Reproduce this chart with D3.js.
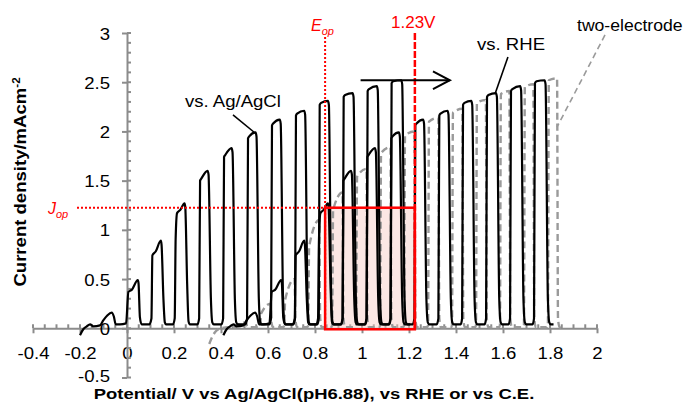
<!DOCTYPE html>
<html>
<head>
<meta charset="utf-8">
<script src="https://cdn.jsdelivr.net/npm/d3@7"></script>
<style>
  body { margin: 0; background: #fff; }
  text { font-family: "Liberation Sans", Arial, sans-serif; }
</style>
</head>
<body>
<div id="chart"></div>
<script>
// ---- data (potential V, current density mA/cm2) ----
const xTicks = [-0.4, -0.2, 0, 0.2, 0.4, 0.6, 0.8, 1, 1.2, 1.4, 1.6, 1.8, 2];
const yTicks = [-0.5, 0, 0.5, 1, 1.5, 2, 2.5, 3];

// chopped LSV, three-electrode, vs Ag/AgCl
const agclPts = [
  [-0.200,-0.07],[-0.186,-0.01],[-0.171,0.02],[-0.157,0.04],[-0.143,0.02],[-0.115,0.03],[-0.101,0.08],
  [-0.084,0.13],[-0.065,0.16],[-0.056,0.12],[-0.048,0.04],[-0.030,0.04],[-0.004,0.05],
  [0.006,0.37],[0.020,0.39],[0.046,0.49],[0.049,0.46],[0.055,0.11],[0.062,0.04],[0.095,0.04],
  [0.104,0.10],[0.108,0.74],[0.122,0.78],[0.144,0.89],[0.147,0.85],[0.155,0.30],[0.161,0.06],[0.166,0.04],[0.196,0.04],
  [0.203,0.10],[0.207,0.91],[0.213,1.17],[0.226,1.20],[0.245,1.27],[0.248,1.23],[0.256,0.45],[0.262,0.07],[0.268,0.04],[0.300,0.04],
  [0.307,0.10],[0.311,1.50],[0.316,1.52],[0.343,1.60],[0.347,1.56],[0.357,0.30],[0.363,0.06],[0.369,0.04],[0.402,0.04],
  [0.409,0.10],[0.413,1.74],[0.418,1.76],[0.445,1.83],[0.449,1.79],[0.459,0.30],[0.465,0.06],[0.471,0.04],[0.504,0.04],
  [0.511,0.10],[0.515,1.93],[0.520,1.95],[0.547,1.99],[0.551,1.95],[0.561,0.30],[0.567,0.06],[0.573,0.04],[0.606,0.04],
  [0.613,0.10],[0.617,2.06],[0.622,2.08],[0.650,2.12],[0.654,2.08],[0.664,0.30],[0.670,0.06],[0.676,0.04],[0.708,0.04],
  [0.715,0.10],[0.719,2.16],[0.724,2.18],[0.754,2.21],[0.758,2.17],[0.768,0.30],[0.774,0.06],[0.780,0.04],[0.810,0.04],
  [0.816,0.10],[0.820,2.27],[0.826,2.29],[0.855,2.31],[0.859,2.27],[0.869,0.30],[0.875,0.06],[0.881,0.04],[0.912,0.04],
  [0.918,0.10],[0.922,2.35],[0.928,2.37],[0.960,2.39],[0.964,2.35],[0.974,0.30],[0.980,0.06],[0.986,0.04],[1.014,0.04],
  [1.020,0.10],[1.024,2.41],[1.030,2.43],[1.063,2.46],[1.067,2.42],[1.077,0.30],[1.083,0.06],[1.089,0.04],[1.116,0.04],
  [1.122,0.10],[1.126,2.49],[1.133,2.51],[1.167,2.52],[1.171,2.48],[1.181,0.30],[1.187,0.06],[1.193,0.04],[1.205,0.04]
];

// same measurement, vs RHE
const rhePts = [
  [0.410,-0.07],[0.424,-0.01],[0.439,0.02],[0.453,0.04],[0.467,0.02],[0.495,0.03],[0.509,0.08],
  [0.526,0.13],[0.545,0.16],[0.554,0.12],[0.562,0.04],[0.580,0.04],[0.606,0.05],
  [0.616,0.37],[0.630,0.39],[0.656,0.49],[0.659,0.46],[0.665,0.11],[0.672,0.04],[0.705,0.04],
  [0.714,0.10],[0.718,0.74],[0.732,0.78],[0.754,0.89],[0.757,0.85],[0.765,0.30],[0.771,0.06],[0.776,0.04],[0.806,0.04],
  [0.813,0.10],[0.817,0.91],[0.823,1.17],[0.836,1.20],[0.855,1.27],[0.858,1.23],[0.866,0.45],[0.872,0.07],[0.878,0.04],[0.910,0.04],
  [0.917,0.10],[0.921,1.50],[0.926,1.52],[0.953,1.60],[0.957,1.56],[0.967,0.30],[0.973,0.06],[0.979,0.04],[1.012,0.04],
  [1.019,0.10],[1.023,1.74],[1.028,1.76],[1.055,1.83],[1.059,1.79],[1.069,0.30],[1.075,0.06],[1.081,0.04],[1.114,0.04],
  [1.121,0.10],[1.125,1.93],[1.130,1.95],[1.157,1.99],[1.161,1.95],[1.171,0.30],[1.177,0.06],[1.183,0.04],[1.216,0.04],
  [1.223,0.10],[1.227,2.06],[1.232,2.08],[1.260,2.12],[1.264,2.08],[1.274,0.30],[1.280,0.06],[1.286,0.04],[1.318,0.04],
  [1.325,0.10],[1.329,2.16],[1.334,2.18],[1.364,2.21],[1.368,2.17],[1.378,0.30],[1.384,0.06],[1.390,0.04],[1.420,0.04],
  [1.426,0.10],[1.430,2.27],[1.436,2.29],[1.465,2.31],[1.469,2.27],[1.479,0.30],[1.485,0.06],[1.491,0.04],[1.522,0.04],
  [1.528,0.10],[1.532,2.35],[1.538,2.37],[1.570,2.39],[1.574,2.35],[1.584,0.30],[1.590,0.06],[1.596,0.04],[1.624,0.04],
  [1.630,0.10],[1.634,2.41],[1.640,2.43],[1.673,2.46],[1.677,2.42],[1.687,0.30],[1.693,0.06],[1.699,0.04],[1.726,0.04],
  [1.732,0.10],[1.736,2.49],[1.743,2.51],[1.777,2.52],[1.781,2.48],[1.791,0.30],[1.797,0.06],[1.803,0.04],[1.815,0.04]
];

// two-electrode, vs C.E.
const twoElPts = [
  [0.350,-0.16],[0.362,-0.09],[0.378,-0.03],[0.400,0.00],[0.430,0.01],[0.460,0.01],
  [0.465,0.02],[0.469,0.03],[0.507,0.06],[0.511,0.02],[0.520,0.01],[0.562,0.01],
  [0.567,0.02],[0.571,0.15],[0.611,0.25],[0.615,0.05],[0.622,0.01],[0.664,0.01],
  [0.669,0.03],[0.673,0.29],[0.713,0.50],[0.717,0.08],[0.724,0.01],[0.766,0.01],
  [0.771,0.03],[0.775,0.83],[0.818,1.10],[0.822,0.10],[0.829,0.01],[0.868,0.01],
  [0.873,0.03],[0.877,1.20],[0.917,1.38],[0.921,0.10],[0.928,0.01],[0.970,0.01],
  [0.975,0.03],[0.979,1.54],[1.019,1.62],[1.023,0.10],[1.030,0.01],[1.072,0.01],
  [1.077,0.03],[1.081,1.78],[1.121,1.84],[1.125,0.10],[1.132,0.01],[1.174,0.01],
  [1.179,0.03],[1.183,1.96],[1.223,2.00],[1.227,0.10],[1.234,0.01],[1.276,0.01],
  [1.281,0.03],[1.285,2.10],[1.325,2.14],[1.329,0.10],[1.336,0.01],[1.378,0.01],
  [1.383,0.03],[1.387,2.19],[1.427,2.23],[1.431,0.10],[1.438,0.01],[1.480,0.01],
  [1.485,0.03],[1.489,2.29],[1.527,2.32],[1.531,0.10],[1.538,0.01],[1.582,0.01],
  [1.587,0.03],[1.591,2.38],[1.627,2.41],[1.631,0.10],[1.638,0.01],[1.684,0.01],
  [1.689,0.03],[1.693,2.45],[1.729,2.48],[1.733,0.10],[1.740,0.01],[1.786,0.01],
  [1.791,0.03],[1.795,2.52],[1.830,2.54],[1.834,0.10],[1.841,0.01],[1.855,0.00]
];

const Eop = 0.843;   // operating potential
const Jop = 1.225;   // operating current density
const E123 = 1.225;  // 1.23 V line

// ---- layout ----
const width = 688, height = 403;
const K = 1.16; // horizontal stretch of the black text

const svg = d3.select("#chart").append("svg")
  .attr("width", width)
  .attr("height", height);

const x = d3.scaleLinear().domain([-0.4, 2]).range([33, 597]);
const y = d3.scaleLinear().domain([-0.5, 3]).range([377.5, 33]);

const axisColor = "#8c8c8c";

// x axis, crossing at y = 0
const gx = svg.append("g")
  .attr("transform", "translate(0," + y(0) + ")")
  .call(d3.axisBottom(x).tickValues(xTicks).tickSizeInner(5).tickSizeOuter(0)
    .tickFormat(d => String(d)));
gx.selectAll("path, line").attr("stroke", axisColor).attr("stroke-width", 2);
gx.selectAll("text")
  .attr("y", 31).attr("dy", 0)
  .attr("fill", "#000")
  .style("font-size", "16px")
  .attr("transform", "scale(" + K + ",1)");
// upper half of major ticks + minor ticks
const xMinor = d3.range(-0.4, 2.0001, 0.05);
gx.selectAll(".minor").data(xMinor).enter().append("line")
  .attr("x1", d => x(d)).attr("x2", d => x(d))
  .attr("y1", 0).attr("y2", -4)
  .attr("stroke", axisColor).attr("stroke-width", 2);

// y axis, crossing at x = 0
const gy = svg.append("g")
  .attr("transform", "translate(" + x(0) + ",0)")
  .call(d3.axisLeft(y).tickValues(yTicks).tickSizeInner(5).tickSizeOuter(0)
    .tickFormat(d => String(d)));
gy.selectAll("path, line").attr("stroke", axisColor).attr("stroke-width", 2);
gy.selectAll("text")
  .attr("x", -17 / K).attr("dy", d => d < 0 ? "0.25em" : "0.38em")
  .attr("fill", "#000")
  .style("font-size", "16px")
  .attr("transform", "scale(" + K + ",1)");
const yMinor = d3.range(-0.5, 3.0001, 0.1);
gy.selectAll(".minor").data(yMinor).enter().append("line")
  .attr("x1", 0).attr("x2", 4)
  .attr("y1", d => y(d)).attr("y2", d => y(d))
  .attr("stroke", axisColor).attr("stroke-width", 2);

// axis titles
const yTitle = svg.append("text")
  .attr("transform", "translate(26,182) rotate(-90) scale(" + K + ",1)")
  .attr("text-anchor", "middle")
  .style("font-size", "16px")
  .style("font-weight", "bold");
yTitle.append("tspan").text("Current density/mAcm");
yTitle.append("tspan").attr("dy", -6).style("font-size", "10px").text("-2");

svg.append("text")
  .attr("transform", "translate(314,399) scale(1.19,1)")
  .attr("text-anchor", "middle")
  .style("font-size", "15.5px")
  .style("font-weight", "bold")
  .text("Potential/ V vs Ag/AgCl(pH6.88), vs RHE or vs C.E.");

// operating point box (fill under curves)
svg.append("rect")
  .attr("x", x(Eop)).attr("y", y(Jop))
  .attr("width", x(E123) - x(Eop))
  .attr("height", y(-0.01) - y(Jop))
  .attr("fill", "#f7c9c4").attr("fill-opacity", 0.45);

// curves
const line = d3.line()
  .x(d => x(d[0]))
  .y(d => y(d[1]))
  .curve(d3.curveMonotoneX);

svg.append("path").datum(twoElPts)
  .attr("d", line)
  .attr("fill", "none")
  .attr("stroke", "#9a9a9a")
  .attr("stroke-width", 2.4)
  .attr("stroke-dasharray", "7,4");

svg.append("path").datum(agclPts)
  .attr("d", line)
  .attr("fill", "none")
  .attr("stroke", "#000")
  .attr("stroke-width", 2.2)
  .attr("stroke-linejoin", "round");

svg.append("path").datum(rhePts)
  .attr("d", line)
  .attr("fill", "none")
  .attr("stroke", "#000")
  .attr("stroke-width", 2.2)
  .attr("stroke-linejoin", "round");

// red guides
const red = "#ff0000";
svg.append("line")
  .attr("x1", x(Eop)).attr("x2", x(Eop))
  .attr("y1", y(2.96)).attr("y2", y(0))
  .attr("stroke", red).attr("stroke-width", 2).attr("stroke-dasharray", "2,2");
svg.append("line")
  .attr("x1", 77).attr("x2", x(Eop))
  .attr("y1", y(Jop)).attr("y2", y(Jop))
  .attr("stroke", red).attr("stroke-width", 2).attr("stroke-dasharray", "2,2");
svg.append("line")
  .attr("x1", x(E123)).attr("x2", x(E123))
  .attr("y1", y(3.0)).attr("y2", y(0))
  .attr("stroke", red).attr("stroke-width", 2.5).attr("stroke-dasharray", "7,2");
svg.append("rect")
  .attr("x", x(Eop)).attr("y", y(Jop))
  .attr("width", x(E123) - x(Eop))
  .attr("height", y(-0.01) - y(Jop))
  .attr("fill", "none")
  .attr("stroke", red).attr("stroke-width", 2.5);

// red labels
svg.append("text")
  .attr("x", 391).attr("y", 28)
  .attr("fill", red)
  .style("font-size", "17px")
  .text("1.23V");
const eLab = svg.append("text").attr("x", 311).attr("y", 31)
  .attr("fill", red).style("font-size", "16px").style("font-style", "italic");
eLab.append("tspan").text("E");
eLab.append("tspan").attr("dy", 4).style("font-size", "11px").text("op");
const jLab = svg.append("text").attr("x", 48).attr("y", 214)
  .attr("fill", red).style("font-size", "16px").style("font-style", "italic");
jLab.append("tspan").text("J");
jLab.append("tspan").attr("dy", 4).style("font-size", "11px").text("op");

// scan direction arrow
svg.append("line")
  .attr("x1", x(0.994)).attr("x2", x(1.374))
  .attr("y1", y(2.52)).attr("y2", y(2.52))
  .attr("stroke", "#000").attr("stroke-width", 2);
svg.append("path")
  .attr("d", d3.line()([[x(1.302), y(2.61)], [x(1.374), y(2.52)], [x(1.302), y(2.43)]]))
  .attr("fill", "none").attr("stroke", "#000").attr("stroke-width", 2);

// series labels with leaders
svg.append("line")
  .attr("x1", x(0.451)).attr("y1", y(2.167)).attr("x2", x(0.545)).attr("y2", y(1.984))
  .attr("stroke", "#000").attr("stroke-width", 1.6);
svg.append("text")
  .attr("transform", "translate(185,107) scale(" + K + ",1)")
  .style("font-size", "16px")
  .text("vs. Ag/AgCl");

svg.append("line")
  .attr("x1", x(1.621)).attr("y1", y(2.756)).attr("x2", x(1.566)).attr("y2", y(2.38))
  .attr("stroke", "#000").attr("stroke-width", 1.6);
svg.append("text")
  .attr("transform", "translate(477,50) scale(" + K + ",1)")
  .style("font-size", "16px")
  .text("vs. RHE");

svg.append("line")
  .attr("x1", x(2.034)).attr("y1", y(2.98)).attr("x2", x(1.83)).attr("y2", y(2.045))
  .attr("stroke", "#9a9a9a").attr("stroke-width", 1.6).attr("stroke-dasharray", "6,4");
svg.append("text")
  .attr("transform", "translate(577,31) scale(1.1,1)")
  .style("font-size", "16px")
  .text("two-electrode");
</script>
</body>
</html>
